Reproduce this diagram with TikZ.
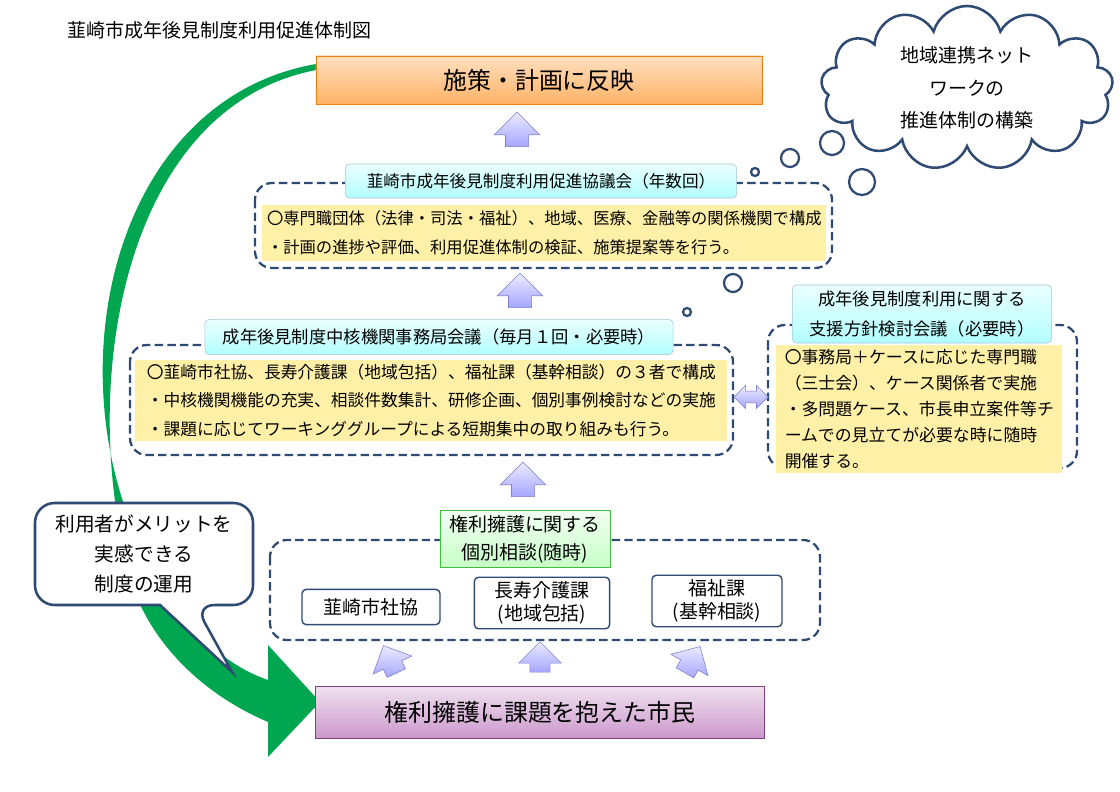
\documentclass[tikz,border=0pt]{standalone}
\usepackage{fontspec}
\setmainfont{Noto Sans CJK JP}
\usetikzlibrary{shapes.arrows,shapes.symbols,positioning}
\definecolor{navy}{HTML}{2F4A73}
\definecolor{note}{HTML}{FFF0A8}
\definecolor{cyclegreen}{HTML}{00A650}
\tikzset{
  group/.style={draw=navy, line width=1.6pt, dash pattern=on 6pt off 3pt, rounded corners=12pt},
  note/.style={fill=note, anchor=north west, align=left, inner sep=3pt},
  label/.style={draw=cyan!40!gray!60, top color=cyan!8, bottom color=cyan!30, rounded corners=3pt, align=center},
  office/.style={draw=navy, line width=1pt, fill=white, rounded corners=3pt, align=center, font=\fontsize{13.5}{16}\selectfont},
  up/.style={single arrow, draw=blue!45!gray!70, top color=blue!8, bottom color=blue!35, shading angle=0,
    single arrow head extend=8pt, inner sep=8pt, single arrow tip angle=90},
  bubble/.style={draw=navy, line width=1.8pt}
}
\begin{document}
\begin{tikzpicture}[x=0.025cm, y=-0.025cm]
\useasboundingbox (0,0) rectangle (1120,791);

% 緑の循環矢印
\fill[cyclegreen] (316,64) .. controls (110,100) and (50,380) .. (150,565)
  .. controls (185,630) and (225,665) .. (268,680) -- (268,645) -- (320,702) -- (268,757) -- (268,722)
  .. controls (205,695) and (160,650) .. (138,600) .. controls (75,420) and (110,110) .. (316,70) -- cycle;

\node[anchor=west, font=\fontsize{13.5}{16}\selectfont] (title) at (63,30) {韮崎市成年後見制度利用促進体制図};

% 反映
\node[draw=orange!70!brown, top color=orange!25, bottom color=orange!60, minimum width=11.15cm, minimum height=1.2cm,
  font=\fontsize{17}{20}\selectfont] (plan) at (539,80) {施策・計画に反映};

% 協議会
\draw[group] (255,183) rectangle (832,268);
\node[note, minimum width=14.1cm, minimum height=1.38cm, font=\fontsize{11.6}{21}\selectfont] (council) at (262,205)
  {〇専門職団体（法律・司法・福祉）、地域、医療、金融等の関係機関で構成\\・計画の進捗や評価、利用促進体制の検証、施策提案等を行う。};
\node[label, minimum width=9.78cm, minimum height=0.85cm, font=\fontsize{11.8}{14}\selectfont] (councilT) at (541,181)
  {韮崎市成年後見制度利用促進協議会（年数回）};

% 事務局会議
\draw[group] (130,345) rectangle (733,455);
\node[note, minimum width=14.8cm, minimum height=2cm, font=\fontsize{11.9}{20}\selectfont] (office) at (135,360)
  {〇韮崎市社協、長寿介護課（地域包括）、福祉課（基幹相談）の３者で構成\\・中核機関機能の充実、相談件数集計、研修企画、個別事例検討などの実施\\・課題に応じてワーキンググループによる短期集中の取り組みも行う。};
\node[label, minimum width=11.7cm, minimum height=0.88cm, font=\fontsize{12.3}{14}\selectfont] (officeT) at (439,337)
  {成年後見制度中核機関事務局会議（毎月１回・必要時）};

% 支援方針検討会議
\draw[group] (768,325) rectangle (1077,468);
\node[note, minimum width=7.15cm, minimum height=2.9cm, font=\fontsize{12}{18.5}\selectfont] (case) at (776,345)
  {〇事務局＋ケースに応じた専門職\\（三士会）、ケース関係者で実施\\・多問題ケース、市長申立案件等チ\\ームでの見立てが必要な時に随時\\開催する。};
\node[label, minimum width=6.48cm, minimum height=1.45cm, font=\fontsize{12.3}{21}\selectfont] (caseT) at (922,314)
  {成年後見制度利用に関する\\支援方針検討会議（必要時）};

\node[double arrow, draw=blue!45!gray!70, top color=blue!8, bottom color=blue!35, minimum width=0.55cm,
  minimum height=0.85cm, double arrow head extend=4pt, inner sep=4pt] (link) at (751,397) {};

% 個別相談
\draw[group] (270,540) rectangle (820,640);
\node[draw=green!50!gray, top color=green!5, bottom color=green!22, align=center, minimum width=4.25cm,
  minimum height=1.3cm, font=\fontsize{13.5}{20}\selectfont] (consult) at (525,539) {権利擁護に関する\\個別相談(随時)};
\node[office, minimum width=3.45cm, minimum height=0.88cm] (kyo) at (371,607) {韮崎市社協};
\node[office, minimum width=3.38cm, minimum height=1.25cm] (chou) at (542,603) {長寿介護課\\(地域包括)};
\node[office, minimum width=3.25cm, minimum height=1.2cm] (fuku) at (717,601) {福祉課\\(基幹相談)};

% 市民
\node[draw=violet!50!gray, top color=violet!12, bottom color=violet!40, minimum width=11.23cm, minimum height=1.3cm,
  font=\fontsize{17}{20}\selectfont] (citizen) at (540,712) {権利擁護に課題を抱えた市民};

% 上向き矢印
\node[up, minimum width=1.05cm, rotate=90] (a1) at (517,135) {};
\node[up, minimum width=0.95cm, rotate=90] (a2) at (520,296) {};
\node[up, minimum width=1.05cm, rotate=90] (a3) at (523,485) {};
\node[up, minimum width=1cm, inner sep=7pt, rotate=115] (a4) at (392,664) {};
\node[up, minimum width=1cm, inner sep=7pt, rotate=90] (a5) at (540,662) {};
\node[up, minimum width=1cm, inner sep=7pt, rotate=60] (a6) at (690,664) {};

% 吹き出し
\draw[bubble, fill=white, rounded corners=14pt] (35,503) -- (253,503) -- (253,605) -- (195,605)
  [sharp corners] -- (232,672) -- (160,605) [rounded corners=14pt] -- (35,605) -- cycle;
\node[align=center, font=\fontsize{14}{21}\selectfont] (merit) at (144,554) {利用者がメリットを\\実感できる\\制度の運用};

% 雲
\node[cloud, draw=navy, line width=1.8pt, fill=white, cloud puffs=13, aspect=2.4, minimum width=6.4cm,
  minimum height=3.1cm, inner sep=0pt, align=center, font=\fontsize{13.5}{23}\selectfont] (net) at (967,88)
  {地域連携ネット\\ワークの\\推進体制の構築};
\foreach \p/\r in {{832,143}/12, {790,158}/9, {755,172}/4, {862,182}/13, {733,283}/9, {687,312}/4}
  \draw[navy, line width=1.6pt] (\p) circle[radius=\r];
\end{tikzpicture}
\end{document}
